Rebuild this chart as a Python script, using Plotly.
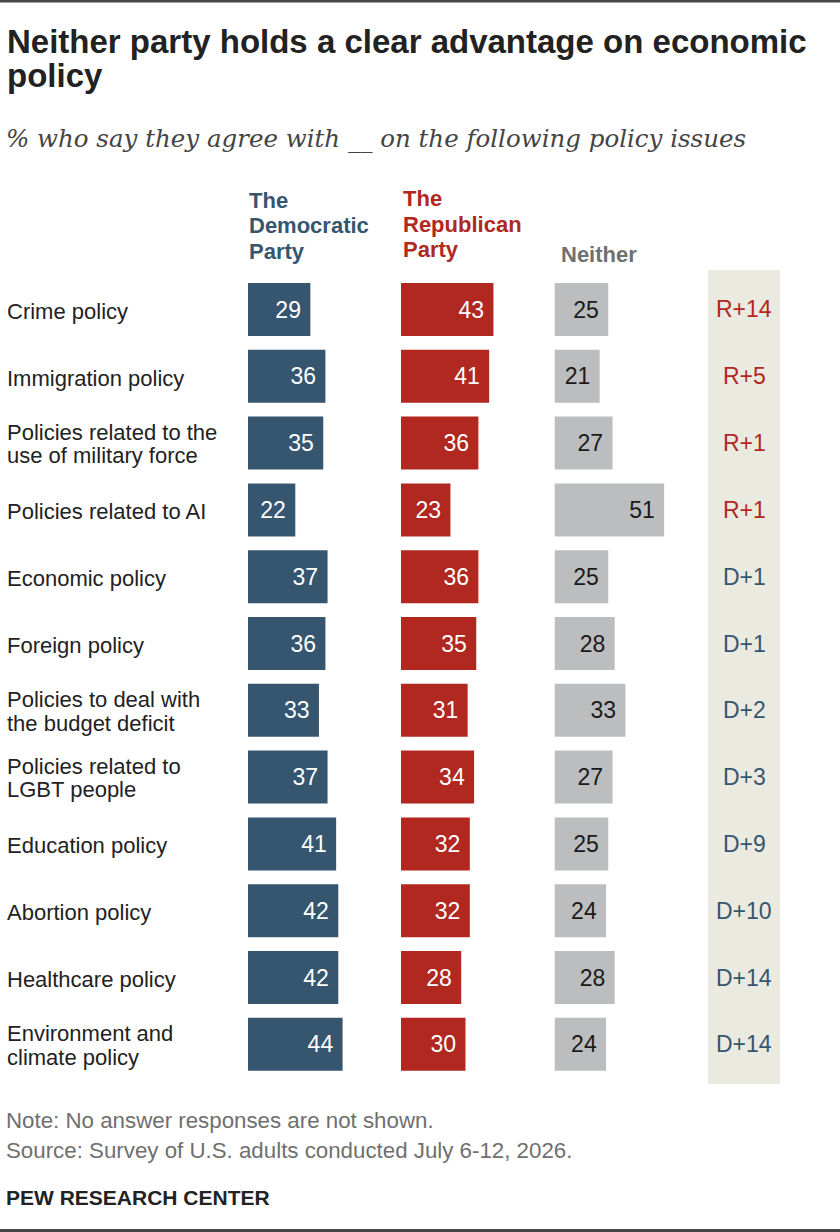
import plotly.graph_objects as go

# ---------------- data ----------------
categories = [
    "Crime policy",
    "Immigration policy",
    "Policies related to the<br>use of military force",
    "Policies related to AI",
    "Economic policy",
    "Foreign policy",
    "Policies to deal with<br>the budget deficit",
    "Policies related to<br>LGBT people",
    "Education policy",
    "Abortion policy",
    "Healthcare policy",
    "Environment and<br>climate policy",
]
dem = [29, 36, 35, 22, 37, 36, 33, 37, 41, 42, 42, 44]
rep = [43, 41, 36, 23, 36, 35, 31, 34, 32, 32, 28, 30]
neither = [25, 21, 27, 51, 25, 28, 33, 27, 25, 24, 28, 24]
diff_labels = ["R+14", "R+5", "R+1", "R+1", "D+1", "D+1", "D+2", "D+3",
               "D+9", "D+10", "D+14", "D+14"]
series_headers = [["The", "Democratic", "Party"],
                  ["The", "Republican", "Party"],
                  ["Neither"]]

title_lines = ["Neither party holds a clear advantage on economic", "policy"]
subtitle = "% who say they agree with __ on the following policy issues"
note = "Note: No answer responses are not shown."
source = "Source: Survey of U.S. adults conducted July 6-12, 2026."
brand = "PEW RESEARCH CENTER"

# ---------------- style ----------------
W, H = 840, 1232
FONT = "Liberation Sans, Arial, sans-serif"
SERIF = "DejaVu Serif, serif"
DEM_C = "#36566f"
REP_C = "#b0281f"
NEI_C = "#bcbdbf"
BEIGE = "#ebeae0"
TEXT_C = "#222222"
GRAY_TXT = "#6f6f6f"


def px(x):
    return x / W


def py(y):
    return 1 - y / H


ROW0, STEP = 309.5, 66.8
Y_TOP = ROW0 - 0.6 * STEP
Y_BOT = ROW0 + 11.6 * STEP
SCALE = 2.15
XMAX = 60
AXW = XMAX * SCALE
ypos = list(range(len(categories)))

fig = go.Figure()


def add_bars(vals, color, txtcolor, xa):
    fig.add_trace(go.Bar(
        x=vals, y=ypos, orientation="h", xaxis=xa, yaxis="y",
        marker=dict(color=color, line=dict(width=0)),
        width=0.793,
        text=[f"{v}\u00a0" for v in vals],
        textposition="inside", insidetextanchor="end",
        textangle=0, constraintext="none",
        textfont=dict(color=txtcolor, size=23, family=FONT),
        hoverinfo="skip", showlegend=False,
    ))


add_bars(dem, DEM_C, "white", "x")
add_bars(rep, REP_C, "white", "x2")
add_bars(neither, NEI_C, "#1a1a1a", "x3")

ax_common = dict(range=[0, XMAX], showgrid=False, zeroline=False,
                 showticklabels=False, showline=False, fixedrange=True)
fig.update_layout(
    width=W, height=H,
    margin=dict(l=0, r=0, t=0, b=0),
    paper_bgcolor="white", plot_bgcolor="rgba(0,0,0,0)",
    barmode="overlay",
    hovermode=False,
    xaxis=dict(domain=[px(248), px(248 + AXW)], anchor="y", **ax_common),
    xaxis2=dict(domain=[px(401), px(401 + AXW)], anchor="y", **ax_common),
    xaxis3=dict(domain=[px(554.5), px(554.5 + AXW)], anchor="y", **ax_common),
    yaxis=dict(domain=[py(Y_BOT), py(Y_TOP)], range=[11.6, -0.6],
               showgrid=False, zeroline=False, showticklabels=False,
               showline=False, fixedrange=True),
)

shapes = [
    dict(type="rect", xref="paper", yref="paper", x0=px(708), x1=px(780),
         y0=py(1084), y1=py(270), fillcolor=BEIGE, line=dict(width=0),
         layer="below"),
    dict(type="rect", xref="paper", yref="paper", x0=0, x1=1,
         y0=py(2.5), y1=1, fillcolor="#464646", line=dict(width=0)),
    dict(type="rect", xref="paper", yref="paper", x0=0, x1=1,
         y0=0, y1=py(1229), fillcolor="#464646", line=dict(width=0)),
]

ann = []


def txt(text, x, y, size, color, family=FONT, bold=False, italic=False,
        xanchor="left"):
    t = f"<b>{text}</b>" if bold else text
    if italic:
        t = f"<i>{t}</i>"
    ann.append(dict(text=t, x=px(x), y=py(y), xref="paper", yref="paper",
                    xanchor=xanchor, yanchor="middle", showarrow=False,
                    font=dict(size=size, color=color, family=family)))


# title / subtitle
txt(title_lines[0], 5, 41.6, 33, TEXT_C, bold=True)
txt(title_lines[1], 5, 75.6, 33, TEXT_C, bold=True)
txt(subtitle, 4, 138.5, 24.5, "#444444", family=SERIF, italic=True)

# column headers
hdr_x = [247, 400.5, 558.5]
hdr_c = [DEM_C, REP_C, "#707070"]
hdr_base = [[207.7, 233.3, 259.0], [206.0, 231.7, 257.0], [261.7]]
for lines, x, c, bases in zip(series_headers, hdr_x, hdr_c, hdr_base):
    for line, b in zip(lines, bases):
        txt(line, x, b - 7.6, 22, c, bold=True)

# category labels (one annotation per line)
for i, cat in enumerate(categories):
    lines = cat.split("<br>")
    shifts = [-2] if len(lines) == 1 else [10.5, -12.8]
    for line, s in zip(lines, shifts):
        ann.append(dict(text=line, x=px(5), xref="paper", xanchor="left",
                        y=i, yref="y", yanchor="middle", yshift=s,
                        showarrow=False,
                        font=dict(size=22, color=TEXT_C, family=FONT)))

# difference column
for i, d in enumerate(diff_labels):
    ann.append(dict(text=d, x=px(744), xref="paper", xanchor="center",
                    y=i, yref="y", yanchor="middle", showarrow=False,
                    font=dict(size=23, color=REP_C if d.startswith("R") else DEM_C,
                              family=FONT)))

# footer
txt(note, 4, 1120.4, 22.3, GRAY_TXT)
txt(source, 4, 1150.4, 22.3, GRAY_TXT)
txt(brand, 4, 1197.7, 21, TEXT_C, bold=True)

fig.update_layout(shapes=shapes, annotations=ann)
fig.write_html("out.html")
